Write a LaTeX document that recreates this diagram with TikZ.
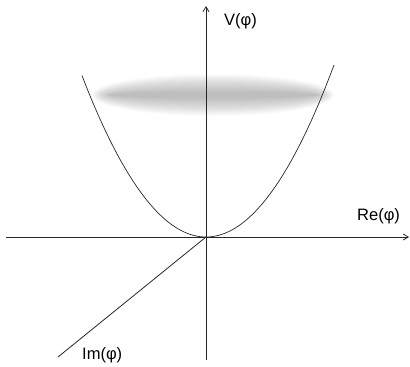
\documentclass[tikz,border=0pt]{standalone}
\usepackage{fontspec}
\setmainfont{Liberation Sans}
\usetikzlibrary{arrows.meta}
\begin{document}
\begin{tikzpicture}[x=1pt,y=-1pt,
  axis/.style={draw=black!85, line width=0.8pt, -{Straight Barb[length=5pt,width=6pt]}},
  plain/.style={draw=black!85, line width=0.8pt},
  lbl/.style={font=\fontsize{16.5}{18}\selectfont, inner sep=0pt}]
\useasboundingbox (0,0) rectangle (410,367);
% blurred gray ellipse
\foreach \t in {-9,-8,...,9}{
  \fill[black, opacity=0.016] (213,95) ellipse ({112+\t} and {12+\t});
}
\coordinate (O) at (206,237);
\coordinate (vtop) at (206,6);
\coordinate (vbot) at (206,360);
\coordinate (hleft) at (6,237);
\coordinate (hright) at (409,237);
\coordinate (dend) at (58,357);
\draw[plain] (vbot) -- (O);
\draw[axis] (O) -- (vtop);
\draw[axis] (hleft) -- (hright);
\draw[plain] (O) -- (dend);
\draw[plain, line width=0.7pt] plot[domain=82:334, samples=80, smooth] (\x, {237-0.0105*(\x-206)*(\x-206)});
\node[lbl, anchor=west] (V) at (224,21) {V(φ)};
\node[lbl, anchor=west] (Re) at (357,216) {Re(φ)};
\node[lbl, anchor=west] (Im) at (82,355) {Im(φ)};
\end{tikzpicture}
\end{document}
